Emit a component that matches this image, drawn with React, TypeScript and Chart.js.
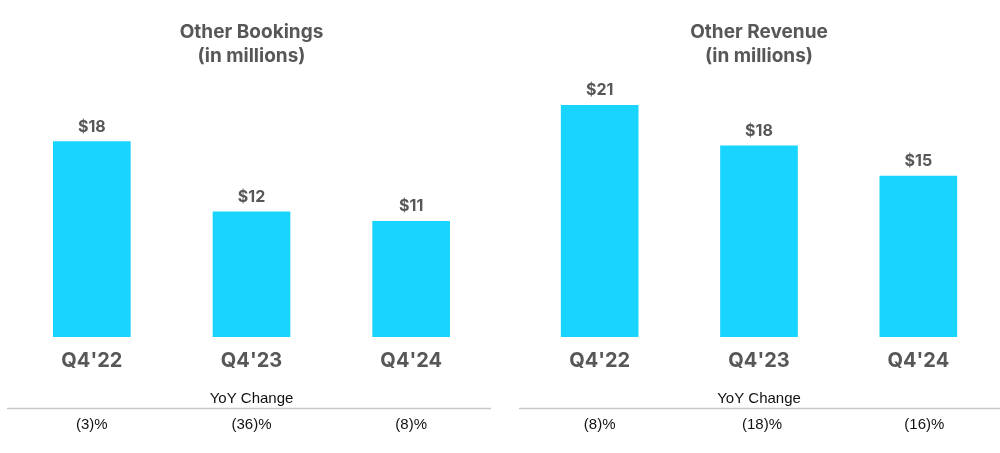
import React, { useEffect, useRef } from "react";
import { Chart, registerables } from "chart.js";

Chart.register(...registerables);

const categories = ["Q4'22", "Q4'23", "Q4'24"];
const bookingsValues = [18.1, 11.6, 10.7];
const revenueValues = [21.45, 17.7, 14.9];
const bookingsYoY = ["(3)%", "(36)%", "(8)%"];
const revenueYoY = ["(8)%", "(18)%", "(16)%"];
const bookingsTitle = ["Other Bookings", "(in millions)"];
const revenueTitle = ["Other Revenue", "(in millions)"];
const yoyLabel = "YoY Change";

const FONT = "Inter, 'Noto Sans', 'DejaVu Sans', sans-serif";
const SMALL_FONT = "'Liberation Sans', Arial, sans-serif";
const GRAY = "#575757";
const BAR = "#19D4FE";

type PanelProps = {
  title: string[];
  values: number[];
  yoy: string[];
  padLeft: number;
  padRight: number;
  lineLeft: number;
  lineRight: number;
  yoyShift: number;
};

function Panel({ title, values, yoy, padLeft, padRight, lineLeft, lineRight, yoyShift }: PanelProps) {
  const ref = useRef<HTMLCanvasElement | null>(null);
  useEffect(() => {
    if (!ref.current) return;
    const overlay = {
      id: "overlay",
      afterDraw(chart: any) {
        const ctx = chart.ctx;
        const area = chart.chartArea;
        const cx = (area.left + area.right) / 2;
        ctx.save();
        // titles
        ctx.fillStyle = GRAY;
        ctx.textAlign = "center";
        ctx.textBaseline = "alphabetic";
        ctx.font = `bold 19px ${FONT}`;
        ctx.fillText(title[0], cx, 38);
        ctx.fillText(title[1], cx, 62);
        // value labels
        const meta = chart.getDatasetMeta(0);
        ctx.font = `bold 16px ${FONT}`;
        meta.data.forEach((el: any, i: number) => {
          const v = chart.data.datasets[0].data[i] as number;
          ctx.fillText("$" + Math.round(v), el.x, el.y - 10);
        });
        // YoY
        ctx.fillStyle = "#111111";
        ctx.font = `15px ${SMALL_FONT}`;
        ctx.fillText(yoyLabel, cx, 403);
        ctx.strokeStyle = "#c8c8c8";
        ctx.lineWidth = 1.5;
        ctx.beginPath();
        ctx.moveTo(lineLeft, 408.5);
        ctx.lineTo(lineRight, 408.5);
        ctx.stroke();
        const xs = chart.scales.x;
        yoy.forEach((t, i) => {
          ctx.fillText(t, xs.getPixelForValue(i) + yoyShift * i, 429);
        });
        ctx.restore();
      },
    };
    const chart = new Chart(ref.current, {
      type: "bar",
      data: {
        labels: categories,
        datasets: [
          {
            data: values,
            backgroundColor: BAR,
            barThickness: 77,
            borderWidth: 0,
          },
        ],
      },
      options: {
        animation: false,
        responsive: false,
        maintainAspectRatio: false,
        layout: { padding: { top: 67, bottom: 66, left: padLeft, right: padRight } },
        plugins: { legend: { display: false }, tooltip: { enabled: false }, title: { display: false } },
        scales: {
          x: {
            grid: { display: false, drawTicks: false },
            border: { display: false },
            ticks: { color: GRAY, font: { family: FONT, size: 20, weight: "bold" }, padding: 12 },
            afterFit: (s: any) => {
              s.height = 50;
            },
          },
          y: { display: false, min: 0, max: 25 },
        },
      },
      plugins: [overlay],
    } as any);
    return () => chart.destroy();
  }, []);
  return <canvas ref={ref} width={500} height={453} style={{ width: 500, height: 453, display: "block" }} />;
}

export default function App() {
  return (
    <div style={{ position: "absolute", left: 0, top: 0, width: 1000, height: 453, background: "#fff", display: "flex" }}>
      <Panel title={bookingsTitle} values={bookingsValues} yoy={bookingsYoY} padLeft={12} padRight={9} lineLeft={7} lineRight={491} yoyShift={0} />
      <Panel title={revenueTitle} values={revenueValues} yoy={revenueYoY} padLeft={20} padRight={2} lineLeft={19} lineRight={500} yoyShift={3} />
    </div>
  );
}
